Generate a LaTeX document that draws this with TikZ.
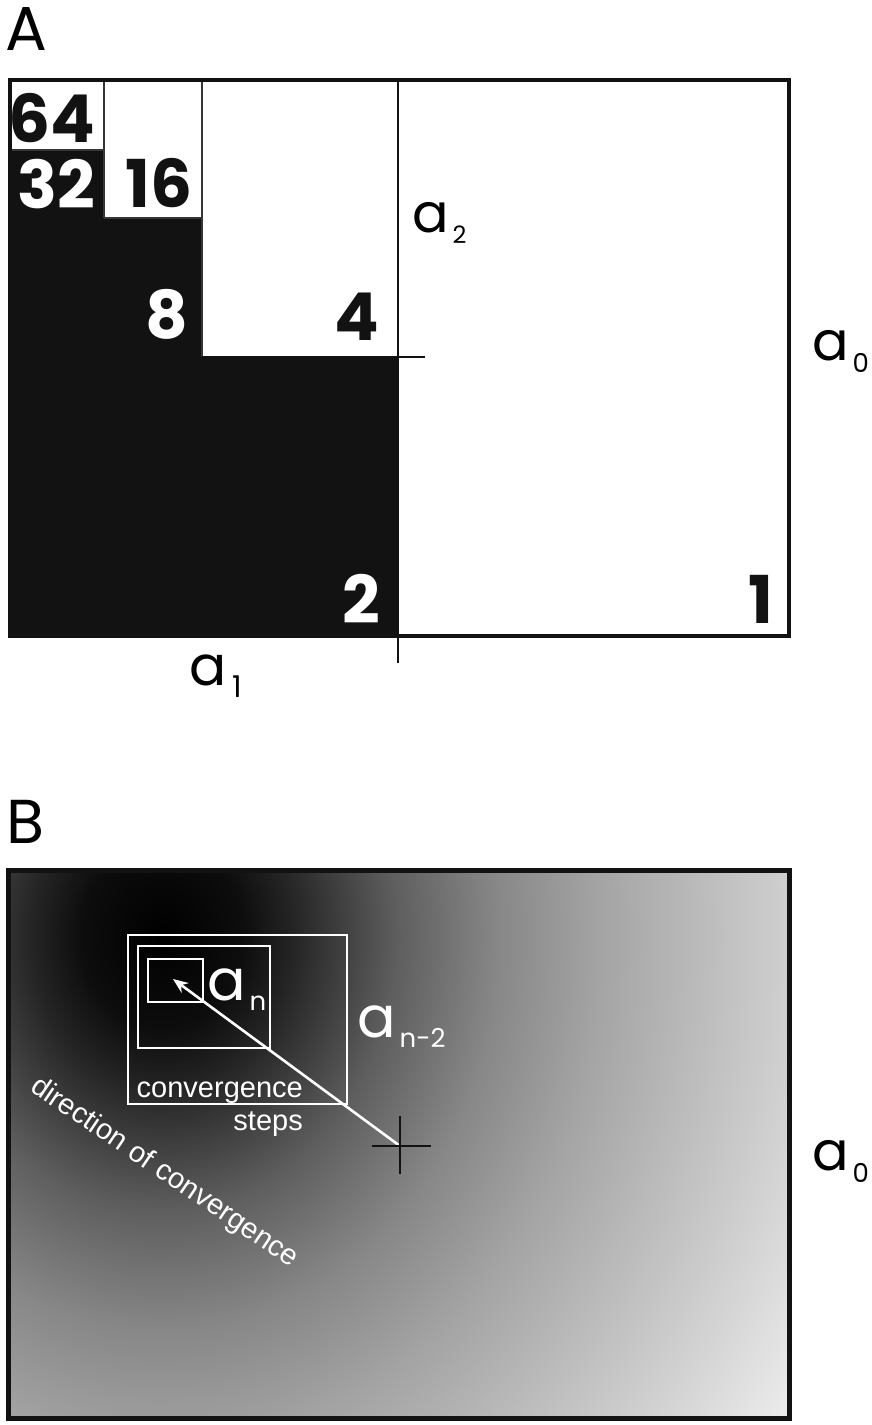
\documentclass[tikz,border=0pt]{standalone}
\usepackage{fontspec}
\setmainfont{Liberation Sans}
\newfontfamily\pop{Poppins}
\usetikzlibrary{arrows.meta}
\definecolor{ink}{HTML}{121212}
\pgfdeclareradialshading{bshade}{\pgfpoint{0bp}{0bp}}{color(0bp)=(black); color(2.5bp)=(black!95); color(4.2bp)=(black!85); color(7.35bp)=(black!63); color(10.5bp)=(black!47); color(13.6bp)=(black!36); color(16.7bp)=(black!27); color(19.5bp)=(black!19); color(23.5bp)=(black!7); color(25bp)=(black!4); color(50bp)=(black!4)}
\newcommand{\alabel}[5]{{\fontsize{#1}{#1}\selectfont a}\kern#5\raisebox{-#4}{\fontsize{#2}{#2}\selectfont #3}}
\tikzset{
  digit/.style={font={\pop\bfseries\fontsize{66}{66}\selectfont}, inner sep=0pt, anchor=base east},
  lbl/.style={font=\pop, inner sep=0pt, anchor=base west},
  panel/.style={font={\pop\fontsize{62}{62}\selectfont}, inner sep=0pt, anchor=base west},
  thinl/.style={draw=ink!85, line width=1.6pt},
  midl/.style={draw=ink, line width=2.2pt},
  outerl/.style={draw=ink, line width=4.5pt},
  wbox/.style={draw=white, line width=2.2pt},
  crossl/.style={draw=ink, line width=2.6pt},
  arrowl/.style={draw=white, line width=2.6pt, -{Stealth[length=15pt,width=12pt]}},
  stxt/.style={font={\fontsize{29}{29}\selectfont}, text=white, inner sep=0pt}
}
\begin{document}
\begin{tikzpicture}[x=1pt,y=-1pt]
\useasboundingbox (0,0) rectangle (872,1425);
\fill[white] (0,0) rectangle (872,1425);

% ---------- Panel A ----------
\node[panel] (labA) at (5,50) {A};
\fill[ink] (10,357) rectangle (398,636);
\fill[ink] (10,218) rectangle (202,357);
\fill[ink] (10,150) rectangle (104,218);
\draw[thinl] (104,80) -- (104,218);
\draw[thinl] (10,150) -- (104,150);
\draw[thinl] (104,218) -- (202,218);
\draw[thinl] (202,80) -- (202,357);
\draw[midl] (202,357) -- (425,357);
\draw[midl] (398,80) -- (398,663);
\draw[outerl] (10,80) rectangle (789,636);

\node[digit, text=ink] (n64) at (95,142) {64};
\node[digit, text=white] (n32) at (95,208) {32};
\node[digit, text=ink] (n16) at (193,207) {16};
\node[digit, text=white] (n8) at (188,338) {8};
\node[digit, text=ink] (n4) at (379,340) {4};
\node[digit, text=white] (n2) at (380,623) {2};
\node[digit, text=ink] (n1) at (774,623) {1};

\node[lbl] (a2) at (412,232) {\alabel{54}{24}{2}{11pt}{4pt}};
\node[lbl] (a0A) at (812,360) {\alabel{54}{26}{0}{12pt}{4pt}};
\node[lbl] (a1) at (189,685) {\alabel{55}{30}{1}{12pt}{6pt}};

% ---------- Panel B ----------
\node[panel] (labB) at (6,843) {B};
\begin{scope}
  \clip (8,870) rectangle (789,1418);
  \shade[shading=bshade] (162,935) ellipse [x radius=800pt, y radius=940pt];
\end{scope}
\draw[outerl, line width=5pt] (8,870) rectangle (789,1418);

\draw[wbox] (128,935) rectangle (347,1104);
\draw[wbox] (138,946) rectangle (270,1048);
\draw[wbox] (148,959) rectangle (203,1002);

\coordinate (cross) at (400,1146);
\coordinate (tip) at (173,979);
\draw[arrowl] (cross) -- (tip);
\draw[crossl] (372,1146) -- (431,1146);
\draw[crossl] (400,1116) -- (400,1174);

\node[lbl, text=white] (an) at (207,1000) {\alabel{57}{26}{n}{10pt}{4pt}};
\node[lbl, text=white] (an2) at (357,1037) {\alabel{57}{26}{n-2}{10pt}{4pt}};
\node[lbl] (a0B) at (812,1170) {\alabel{54}{26}{0}{12pt}{4pt}};

\node[stxt, anchor=base east] (conv) at (303,1097) {convergence};
\node[stxt, anchor=base east] (steps) at (303,1130) {steps};
\node[stxt, anchor=base, rotate=-34] (dir) at (160,1179) {direction of convergence};
\end{tikzpicture}
\end{document}
